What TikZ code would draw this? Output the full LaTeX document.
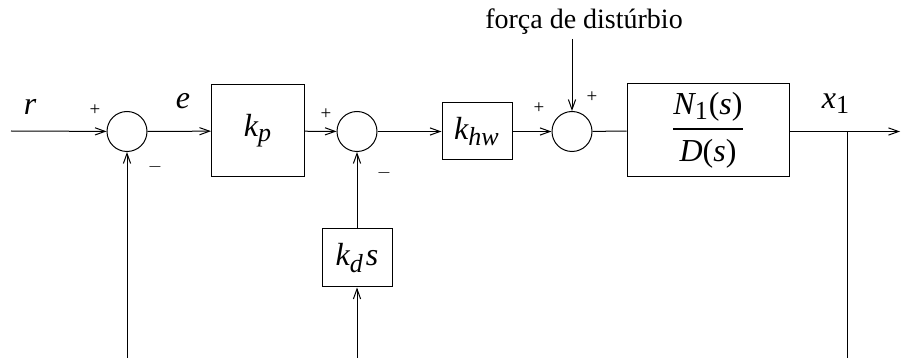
\documentclass[tikz,border=0pt]{standalone}
\usepackage{amsmath}
\usepackage{fontspec}
\setmainfont{Liberation Serif}
\usetikzlibrary{arrows.meta}
\DeclareMathSizes{16}{16}{13}{10}
\newcommand{\mi}[1]{\textit{#1}}
\begin{document}
\begin{tikzpicture}[x=0.5pt,y=-0.5pt,
  line width=0.5pt,
  every node/.style={font=\fontsize{14}{17}\selectfont},
  big/.style={font=\fontsize{16}{19}\selectfont},
  arr/.style={-{Straight Barb[length=5pt,width=3.6pt,line width=0.5pt]}},
  sumnode/.style={circle,draw,minimum size=20pt,inner sep=0pt},
  blk/.style={draw,inner sep=0pt,big},
  sgn/.style={font=\fontsize{9.5}{11}\selectfont,inner sep=0pt}]
\useasboundingbox (0,0) rectangle (901,358);
% nodes
\coordinate (in) at (11,131);
\node[sumnode] (s1) at (127,131.5) {};
\node[blk,minimum width=46.5pt,minimum height=46pt] (kp) at (258,131) {$\mi{k}_{\mi{p}}$};
\node[sumnode] (s2) at (357,131.5) {};
\node[blk,minimum width=35pt,minimum height=28.5pt] (khw) at (477,131.5) {$\mi{k}_{\mi{hw}}$};
\node[sumnode] (s3) at (572,131.5) {};
\node[blk,minimum width=81pt,minimum height=46.5pt] (G) at (708,130.5) {$\genfrac{}{}{1.1pt}{0}{\mi{N}_{\text{1}}\text{(}\mi{s}\text{)}}{\mi{D}\text{(}\mi{s}\text{)}}$};
\node[blk,minimum width=35pt,minimum height=29pt] (kd) at (357,258) {$\mi{k}_{\mi{d}}\mkern1mu\mi{s}$};
\coordinate (br) at (847,131.5);
\coordinate (out) at (900,131.5);
\coordinate (b1) at (127,358);
\coordinate (b2) at (357,358);
\coordinate (b3) at (847,358);
\node[inner sep=0pt] (dist) at (584,22) {força de distúrbio};
\coordinate (dtop) at (572,39);
% connectors
\draw[arr] (in) -- (s1);
\draw[arr] (s1) -- (kp);
\draw[arr] (kp) -- (s2);
\draw[arr] (s2) -- (khw);
\draw[arr] (khw) -- (s3);
\draw (s3) -- (G);
\draw[arr] (G.east |- out) -- (out);
\draw (br) -- (b3);
\draw[arr] (b1) -- (s1);
\draw[arr] (kd) -- (s2);
\draw[arr] (b2) -- (kd);
\draw[arr] (dtop) -- (s3);
% labels
\node[big] (lr) at (30,107) {$\mi{r}$};
\node[big] (le) at (183,101) {$\mi{e}$};
\node[big] (lx) at (836,104) {$\mi{x}_{\text{1}}$};
\node[sgn] (p1) at (95,110) {+};
\node[sgn] (m1) at (155,167) {$-$};
\node[sgn] (p2) at (326,114) {+};
\node[sgn] (m2) at (384,173) {$-$};
\node[sgn] (p3) at (539,108) {+};
\node[sgn] (p4) at (592,97) {+};
\end{tikzpicture}
\end{document}
